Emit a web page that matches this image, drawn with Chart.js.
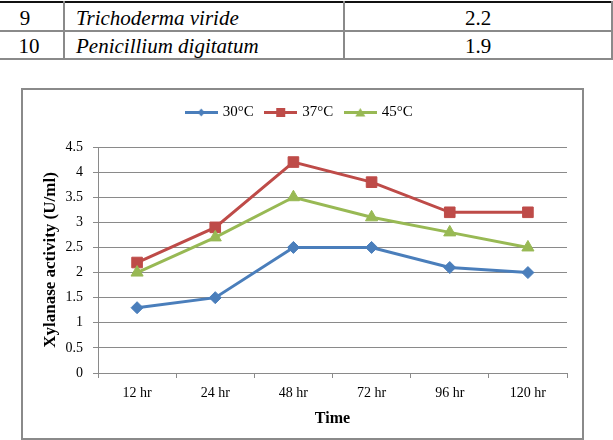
<!DOCTYPE html>
<html><head><meta charset="utf-8">
<script src="https://cdn.jsdelivr.net/npm/chart.js@4.4.0/dist/chart.umd.min.js"></script>
<style>
html,body{margin:0;padding:0;background:#fff;width:613px;height:440px;overflow:hidden;position:relative;}
.hl{position:absolute;left:0;width:613px;height:2px;background:#8a8a8a;}
.vl{position:absolute;top:1px;width:2px;height:59px;background:#8a8a8a;}
.t{position:absolute;font-family:'Liberation Serif','DejaVu Serif',serif;font-size:21px;line-height:21px;color:#000;white-space:nowrap;}
.c{transform:translateX(-50%);}
.i{font-style:italic;}
#box{position:absolute;left:21px;top:88px;width:559px;height:348px;border:2px solid #8a8a8a;background:#fff;}
#wrap{position:absolute;left:0;top:0;width:559px;height:348px;}
</style></head><body>
<div class="hl" style="top:1px;background:#111;"></div>
<div class="hl" style="top:30px;"></div>
<div class="hl" style="top:58px;"></div>
<div class="vl" style="left:63px;"></div>
<div class="vl" style="left:343px;"></div>
<div class="vl" style="left:611px;"></div>
<div id="tbl"></div>
<div id="box"><div id="wrap"><canvas id="chart"></canvas></div></div>
<script>
// table data
const tableNos = ['9', '10'];
const tableNames = ['Trichoderma viride', 'Penicillium digitatum'];
const tableVals = ['2.2', '1.9'];

// chart data
const categories = ['12 hr', '24 hr', '48 hr', '72 hr', '96 hr', '120 hr'];
const seriesNames = ['30°C', '37°C', '45°C'];
const series30 = [1.3, 1.5, 2.5, 2.5, 2.1, 2.0];
const series37 = [2.2, 2.9, 4.2, 3.8, 3.2, 3.2];
const series45 = [2.0, 2.7, 3.5, 3.1, 2.8, 2.5];

// build table text
(function(){
  const tbl = document.getElementById('tbl');
  const rowTops = [8, 36];
  const noX = [25, 29];
  tableNos.forEach((n, r) => {
    const a = document.createElement('span'); a.className = 't c'; a.textContent = n;
    a.style.left = noX[r] + 'px'; a.style.top = rowTops[r] + 'px'; tbl.appendChild(a);
    const b = document.createElement('span'); b.className = 't i'; b.textContent = tableNames[r];
    b.style.left = '76px'; b.style.top = rowTops[r] + 'px'; tbl.appendChild(b);
    const c = document.createElement('span'); c.className = 't c'; c.textContent = tableVals[r];
    c.style.left = '478px'; c.style.top = rowTops[r] + 'px'; tbl.appendChild(c);
  });
})();

const colors = ['#4A7EBB', '#BE4B48', '#98B954'];
const styles = ['rectRot', 'rect', 'triangle'];

function legendSymbol(color, style) {
  const c = document.createElement('canvas');
  c.width = 33; c.height = 15;
  const ctx = c.getContext('2d');
  ctx.strokeStyle = color; ctx.fillStyle = color; ctx.lineWidth = 3;
  ctx.beginPath(); ctx.moveTo(0, 7.5); ctx.lineTo(33, 7.5); ctx.stroke();
  ctx.beginPath();
  if (style === 'rectRot') { ctx.moveTo(16.5, 3.5); ctx.lineTo(20, 7.5); ctx.lineTo(16.5, 11.5); ctx.lineTo(13, 7.5); }
  else if (style === 'rect') { ctx.rect(12, 3, 9, 9); }
  else { ctx.moveTo(16.5, 3); ctx.lineTo(21.5, 11.5); ctx.lineTo(11.5, 11.5); }
  ctx.closePath(); ctx.fill();
  return c;
}
const symbols = colors.map((c, i) => legendSymbol(c, styles[i]));

const legendShift = {
  id: 'legendShift',
  afterLayout(chart) {
    const l = chart.legend;
    if (l) { l.top -= 17; l.bottom -= 17; l.left += 5; l.right += 5; }
  }
};

const serif = "'Liberation Serif', 'DejaVu Serif', serif";
const seriesData = [series30, series37, series45];
const radii = [6, 7.5, 7];

new Chart(document.getElementById('chart'), {
  type: 'line',
  data: {
    labels: categories,
    datasets: seriesData.map((d, i) => ({
      label: seriesNames[i],
      data: d,
      borderColor: colors[i],
      backgroundColor: colors[i],
      pointBackgroundColor: colors[i],
      pointBorderColor: colors[i],
      pointStyle: styles[i],
      pointRadius: radii[i],
      pointHoverRadius: radii[i],
      pointBorderWidth: 1,
      borderWidth: 3,
      tension: 0,
      fill: false,
      order: 3 - i
    }))
  },
  options: {
    responsive: true,
    maintainAspectRatio: false,
    animation: false,
    events: [],
    layout: { padding: { left: 0, right: 15, top: 19, bottom: 0 } },
    plugins: {
      tooltip: { enabled: false },
      legend: {
        display: true,
        position: 'top',
        labels: {
          usePointStyle: true,
          pointStyleWidth: 28,
          padding: 13,
          color: '#000',
          font: { family: serif, size: 15 },
          generateLabels: chart => chart.data.datasets.map((ds, i) => ({
            text: ds.label,
            pointStyle: symbols[i],
            fillStyle: colors[i],
            strokeStyle: colors[i],
            lineWidth: 0,
            hidden: false,
            datasetIndex: i,
            fontColor: '#000'
          }))
        }
      }
    },
    scales: {
      x: {
        offset: true,
        grid: { display: true, drawOnChartArea: false, drawTicks: true, tickLength: 5, color: '#8a8a8a', offset: true },
        border: { display: true, color: '#8a8a8a', width: 1 },
        ticks: { padding: 7, color: '#000', font: { family: serif, size: 14 }, maxRotation: 0 },
        title: { display: true, text: 'Time', color: '#000', font: { family: serif, size: 16, weight: 'bold' }, padding: { top: 0, bottom: 10 } },
        afterFit: s => { s.height = 65; }
      },
      y: {
        min: 0,
        max: 4.5,
        ticks: { stepSize: 0.5, padding: 10, color: '#000', font: { family: serif, size: 14 }, callback: v => String(v) },
        grid: { color: '#8a8a8a', lineWidth: 1, tickLength: 5, drawTicks: true },
        border: { display: true, color: '#8a8a8a', width: 1 },
        title: { display: true, text: 'Xylanase activity (U/ml)', color: '#000', font: { family: serif, size: 17, weight: 'bold' }, padding: { top: 17, bottom: 0 } },
        afterFit: s => { s.width = 75; }
      }
    }
  },
  plugins: [legendShift]
});
</script>
</body></html>
